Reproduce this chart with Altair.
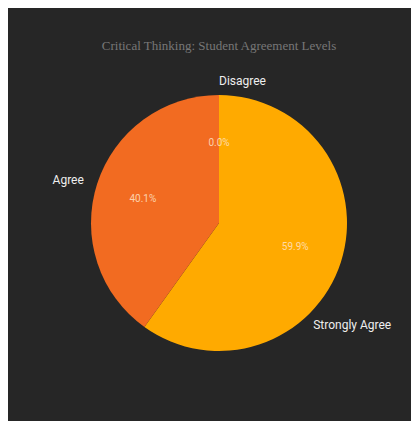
import altair as alt
import pandas as pd

categories = ["Disagree", "Strongly Agree", "Agree"]
percentages = [0.0, 59.9, 40.1]
order_idx = [0, 1, 2]
colors = ["#E8E8E8", "#FFAA00", "#F26B21"]

df = pd.DataFrame({"category": categories, "pct": percentages, "idx": order_idx})

base = alt.Chart(df).transform_window(
    cum="sum(pct)", sort=[alt.SortField("idx")]
).transform_calculate(
    start="datum.cum - datum.pct",
    mid="datum.cum - datum.pct / 2",
    label="format(datum.pct, '.1f') + '%'",
)

theta_scale = alt.Scale(domain=[0, 100], range=[0, 6.283185307179586])
theta_mid = alt.Theta("mid:Q", scale=theta_scale, stack=None)

arcs = base.mark_arc(outerRadius=128).encode(
    theta=alt.Theta("start:Q", scale=theta_scale, stack=None),
    theta2="cum:Q",
    color=alt.Color("category:N", scale=alt.Scale(domain=categories, range=colors), legend=None),
)

pct_text = base.mark_text(radius=80, fontSize=10, color="#FFE2C4", opacity=0.85, font="Roboto").encode(
    theta=theta_mid,
    text="label:N",
)

label_style = dict(fontSize=12, color="#EEEEEE", baseline="middle", font="Roboto")

top_label = base.transform_filter(
    alt.FieldOneOfPredicate(field="category", oneOf=["Disagree"])
).mark_text(radius=142, align="left", **label_style).encode(theta=theta_mid, text="category:N")

left_label = base.transform_filter(
    alt.FieldOneOfPredicate(field="category", oneOf=["Agree"])
).mark_text(radius=142, align="right", **label_style).encode(theta=theta_mid, text="category:N")

bottom_label = base.transform_filter(
    alt.FieldOneOfPredicate(field="category", oneOf=["Strongly Agree"])
).mark_text(radius=142, align="left", dx=-41, dy=59, **label_style).encode(theta=theta_mid, text="category:N")

chart = alt.layer(arcs, pct_text, top_label, left_label, bottom_label).properties(
    width=382,
    height=328,
    background="#262626",
    padding={"left": 20, "right": 1, "top": 32, "bottom": 36},
    title=alt.TitleParams(
        "Critical Thinking: Student Agreement Levels",
        font="Liberation Serif",
        fontSize=13,
        fontWeight="normal",
        color="#777777",
        offset=6,
    ),
).configure_view(stroke=None)

chart.save("out.html", embed_options={"renderer": "svg", "actions": False})
